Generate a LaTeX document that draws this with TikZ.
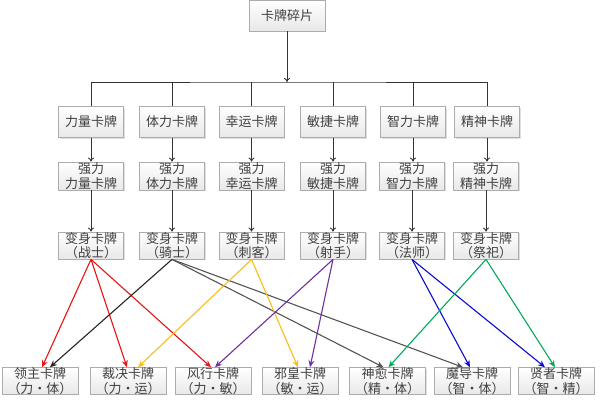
\documentclass[tikz,border=0pt]{standalone}
\usepackage{fontspec}
\setmainfont{Noto Sans CJK SC}
\usetikzlibrary{arrows.meta,shadows}
\definecolor{cred}{RGB}{230,20,20}
\definecolor{cyel}{RGB}{250,190,20}
\definecolor{cpur}{RGB}{112,48,160}
\definecolor{cblu}{RGB}{10,10,210}
\definecolor{cgrn}{RGB}{0,170,90}
\definecolor{cgry}{RGB}{85,85,85}
\tikzset{
  card/.style={draw=gray!65, line width=0.8pt, top color=white, bottom color=gray!18,
    drop shadow={shadow xshift=1pt, shadow yshift=-1pt, opacity=0.25},
    text=black!75, font=\fontsize{13}{14.5}\selectfont, inner sep=0pt, align=center},
  c1/.style={card, minimum width=65pt, minimum height=31pt},
  c2/.style={card, minimum width=65pt, minimum height=28pt},
  c3/.style={card, minimum width=65pt, minimum height=27pt},
  cb/.style={card, minimum width=76pt, minimum height=26pt},
  conn/.style={draw=black!80, line width=0.9pt},
  varrow/.style={conn, -{To[length=4pt,width=6pt]}},
  carrow/.style={line width=1.1pt, -{Stealth[length=7pt,width=6pt]}}
}
\begin{document}
\begin{tikzpicture}[x=1pt,y=-1pt]
\useasboundingbox (0,0) rectangle (600,400);
\fill[white] (0,0) rectangle (600,400);
% top
\node[card, minimum width=76pt, minimum height=31pt] (top) at (287,15.5) {卡牌碎片};
\coordinate (bus) at (287,82);
% row 1
\node[c1] (a1) at (91,122) {力量卡牌};
\node[c1] (b1) at (172,122) {体力卡牌};
\node[c1] (c1n) at (251.5,122) {幸运卡牌};
\node[c1] (d1) at (333,122) {敏捷卡牌};
\node[c1] (e1) at (413,122) {智力卡牌};
\node[c1] (f1) at (487,122) {精神卡牌};
% row 2
\node[c2] (a2) at (91,176) {强力\\力量卡牌};
\node[c2] (b2) at (172,176) {强力\\体力卡牌};
\node[c2] (c2n) at (251.5,176) {强力\\幸运卡牌};
\node[c2] (d2) at (333,176) {强力\\敏捷卡牌};
\node[c2] (e2) at (412,176) {强力\\智力卡牌};
\node[c2] (f2) at (486,176) {强力\\精神卡牌};
% row 3
\node[c3] (a3) at (91,245.5) {变身卡牌\\（战士）};
\node[c3] (b3) at (172,245.5) {变身卡牌\\（骑士）};
\node[c3] (c3n) at (251.5,245.5) {变身卡牌\\（刺客）};
\node[c3] (d3) at (333,245.5) {变身卡牌\\（射手）};
\node[c3] (e3) at (412,245.5) {变身卡牌\\（法师）};
\node[c3] (f3) at (486,245.5) {变身卡牌\\（祭祀）};
% bottom
\node[cb] (g1) at (40,381) {领主卡牌\\（力・体）};
\node[cb] (g2) at (128,381) {裁决卡牌\\（力・运）};
\node[cb] (g3) at (213,381) {风行卡牌\\（力・敏）};
\node[cb] (g4) at (300,381) {邪皇卡牌\\（敏・运）};
\node[cb] (g5) at (387.5,381) {神愈卡牌\\（精・体）};
\node[cb] (g6) at (472,381) {魔导卡牌\\（智・体）};
\node[cb] (g7) at (556,381) {贤者卡牌\\（智・精）};
% tree
\draw[varrow] (top.south) -- (bus);
\draw[conn] (a1.north) |- (bus) -| (f1.north);
\foreach \n in {b1,c1n,d1,e1} \draw[conn] (\n.north) -- (\n.north |- bus);
\draw[varrow] (a1) -- (a2);
\draw[varrow] (b1) -- (b2);
\draw[varrow] (c1n) -- (c2n);
\draw[varrow] (d1) -- (d2);
\draw[varrow] (e1.south) -- (e1.south |- e2.north);
\draw[varrow] (f1.south) -- (f1.south |- f2.north);
\draw[varrow] (a2) -- (a3);
\draw[varrow] (b2) -- (b3);
\draw[varrow] (c2n) -- (c3n);
\draw[varrow] (d2) -- (d3);
\draw[varrow] (e2) -- (e3);
\draw[varrow] (f2) -- (f3);
% combination arrows
\draw[carrow, cred] (a3.south) -- ([xshift=2pt]g1.north);
\draw[carrow, cred] (a3.south) -- ([xshift=-1pt]g2.north);
\draw[carrow, cred] (a3.south) -- ([xshift=-2pt]g3.north);
\draw[carrow, black!85] (b3.south) -- ([xshift=10pt]g1.north);
\draw[carrow, cgry] (b3.south) -- ([xshift=-4pt]g5.north);
\draw[carrow, cgry] (b3.south) -- ([xshift=-9pt]g6.north);
\draw[carrow, cyel] (c3n.south) -- ([xshift=10pt]g2.north);
\draw[carrow, cyel] (c3n.south) -- ([xshift=-2pt]g4.north);
\draw[carrow, cpur] (d3.south) -- ([xshift=2pt]g3.north);
\draw[carrow, cpur] (d3.south) -- ([xshift=10pt]g4.north);
\draw[carrow, cblu] (e3.south) -- ([xshift=-2pt]g6.north);
\draw[carrow, cblu] (e3.south) -- ([xshift=-11pt]g7.north);
\draw[carrow, cgrn] (f3.south) -- ([xshift=1pt]g5.north);
\draw[carrow, cgrn] (f3.south) -- ([xshift=-1pt]g7.north);
\end{tikzpicture}
\end{document}
